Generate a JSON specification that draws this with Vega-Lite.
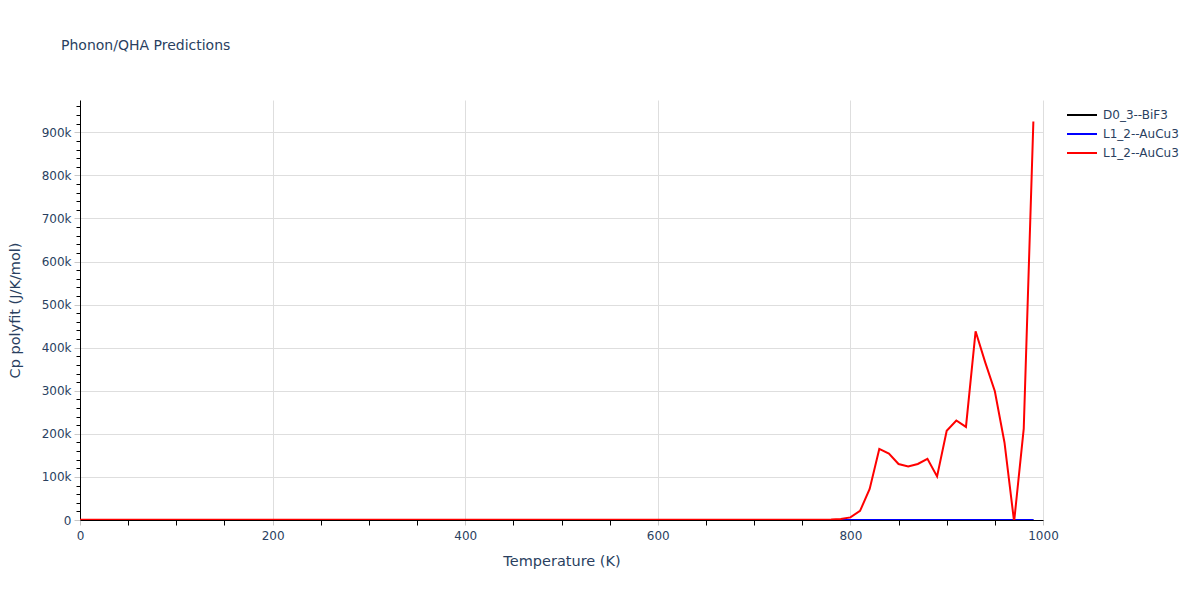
{
  "$schema": "https://vega.github.io/schema/vega-lite/v6.json",
  "width": 963,
  "height": 420,
  "autosize": "none",
  "padding": {"left": 80, "top": 100, "right": 157, "bottom": 80},
  "background": "white",
  "title": {
    "text": "Phonon/QHA Predictions",
    "anchor": "start",
    "frame": "group",
    "dx": -19,
    "offset": 36,
    "baseline": "alphabetic",
    "font": "DejaVu Sans",
    "fontSize": 14,
    "fontWeight": "normal",
    "color": "#2a3f5f"
  },
  "config": {
    "view": {"stroke": null},
    "font": "DejaVu Sans"
  },
  "data": {
    "values": [
      {"T": 0, "Cp": 0, "series": "D0_3--BiF3"},
      {"T": 50, "Cp": 40, "series": "D0_3--BiF3"},
      {"T": 100, "Cp": 70, "series": "D0_3--BiF3"},
      {"T": 150, "Cp": 82, "series": "D0_3--BiF3"},
      {"T": 200, "Cp": 88, "series": "D0_3--BiF3"},
      {"T": 300, "Cp": 93, "series": "D0_3--BiF3"},
      {"T": 400, "Cp": 95, "series": "D0_3--BiF3"},
      {"T": 500, "Cp": 97, "series": "D0_3--BiF3"},
      {"T": 600, "Cp": 98, "series": "D0_3--BiF3"},
      {"T": 700, "Cp": 99, "series": "D0_3--BiF3"},
      {"T": 800, "Cp": 100, "series": "D0_3--BiF3"},
      {"T": 900, "Cp": 101, "series": "D0_3--BiF3"},
      {"T": 990, "Cp": 102, "series": "D0_3--BiF3"},
      {"T": 0, "Cp": 0, "series": "L1_2--AuCu3 #1"},
      {"T": 50, "Cp": 50, "series": "L1_2--AuCu3 #1"},
      {"T": 100, "Cp": 80, "series": "L1_2--AuCu3 #1"},
      {"T": 150, "Cp": 90, "series": "L1_2--AuCu3 #1"},
      {"T": 200, "Cp": 94, "series": "L1_2--AuCu3 #1"},
      {"T": 300, "Cp": 97, "series": "L1_2--AuCu3 #1"},
      {"T": 400, "Cp": 99, "series": "L1_2--AuCu3 #1"},
      {"T": 500, "Cp": 100, "series": "L1_2--AuCu3 #1"},
      {"T": 600, "Cp": 101, "series": "L1_2--AuCu3 #1"},
      {"T": 700, "Cp": 102, "series": "L1_2--AuCu3 #1"},
      {"T": 800, "Cp": 103, "series": "L1_2--AuCu3 #1"},
      {"T": 900, "Cp": 104, "series": "L1_2--AuCu3 #1"},
      {"T": 990, "Cp": 105, "series": "L1_2--AuCu3 #1"},
      {"T": 0, "Cp": 300, "series": "L1_2--AuCu3 #2"},
      {"T": 100, "Cp": 500, "series": "L1_2--AuCu3 #2"},
      {"T": 200, "Cp": 550, "series": "L1_2--AuCu3 #2"},
      {"T": 300, "Cp": 550, "series": "L1_2--AuCu3 #2"},
      {"T": 400, "Cp": 560, "series": "L1_2--AuCu3 #2"},
      {"T": 500, "Cp": 570, "series": "L1_2--AuCu3 #2"},
      {"T": 600, "Cp": 580, "series": "L1_2--AuCu3 #2"},
      {"T": 700, "Cp": 600, "series": "L1_2--AuCu3 #2"},
      {"T": 750, "Cp": 650, "series": "L1_2--AuCu3 #2"},
      {"T": 760, "Cp": 700, "series": "L1_2--AuCu3 #2"},
      {"T": 770, "Cp": 850, "series": "L1_2--AuCu3 #2"},
      {"T": 780, "Cp": 1300, "series": "L1_2--AuCu3 #2"},
      {"T": 790, "Cp": 2600, "series": "L1_2--AuCu3 #2"},
      {"T": 800, "Cp": 6000, "series": "L1_2--AuCu3 #2"},
      {"T": 810, "Cp": 21000, "series": "L1_2--AuCu3 #2"},
      {"T": 820, "Cp": 72000, "series": "L1_2--AuCu3 #2"},
      {"T": 830, "Cp": 165000, "series": "L1_2--AuCu3 #2"},
      {"T": 840, "Cp": 154000, "series": "L1_2--AuCu3 #2"},
      {"T": 850, "Cp": 130000, "series": "L1_2--AuCu3 #2"},
      {"T": 860, "Cp": 124000, "series": "L1_2--AuCu3 #2"},
      {"T": 870, "Cp": 130000, "series": "L1_2--AuCu3 #2"},
      {"T": 880, "Cp": 142000, "series": "L1_2--AuCu3 #2"},
      {"T": 890, "Cp": 101000, "series": "L1_2--AuCu3 #2"},
      {"T": 900, "Cp": 207000, "series": "L1_2--AuCu3 #2"},
      {"T": 910, "Cp": 231000, "series": "L1_2--AuCu3 #2"},
      {"T": 920, "Cp": 216000, "series": "L1_2--AuCu3 #2"},
      {"T": 930, "Cp": 438000, "series": "L1_2--AuCu3 #2"},
      {"T": 940, "Cp": 366000, "series": "L1_2--AuCu3 #2"},
      {"T": 950, "Cp": 299000, "series": "L1_2--AuCu3 #2"},
      {"T": 960, "Cp": 180000, "series": "L1_2--AuCu3 #2"},
      {"T": 970, "Cp": -4000, "series": "L1_2--AuCu3 #2"},
      {"T": 980, "Cp": 212000, "series": "L1_2--AuCu3 #2"},
      {"T": 990, "Cp": 925000, "series": "L1_2--AuCu3 #2"}
    ]
  },
  "layer": [
    {
      "mark": {"type": "line", "strokeWidth": 2, "clip": true},
      "encoding": {
        "x": {
          "field": "T",
          "type": "quantitative",
          "scale": {"domain": [0, 1000], "nice": false, "zero": false},
          "axis": {
            "orient": "bottom",
            "title": "Temperature (K)",
            "values": [0, 200, 400, 600, 800, 1000],
            "format": "d",
            "labelFlush": false,
            "grid": true,
            "gridColor": "#dedede",
            "tickColor": "#c8c8c8",
            "tickSize": 5,
            "domainColor": "#000000",
            "labelFont": "DejaVu Sans",
            "labelFontSize": 12,
            "labelColor": "#2a3f5f",
            "labelPadding": 5,
            "titleFont": "DejaVu Sans",
            "titleFontSize": 14.5,
            "titleFontWeight": "normal",
            "titleColor": "#2a3f5f",
            "titlePadding": 13
          }
        },
        "y": {
          "field": "Cp",
          "type": "quantitative",
          "scale": {"domain": [0, 975000], "nice": false, "zero": false},
          "axis": {
            "orient": "left",
            "title": "Cp polyfit (J/K/mol)",
            "values": [0, 100000, 200000, 300000, 400000, 500000, 600000, 700000, 800000, 900000],
            "labelExpr": "datum.value == 0 ? '0' : format(datum.value / 1000, 'd') + 'k'",
            "labelFlush": false,
            "grid": true,
            "gridColor": "#dedede",
            "tickColor": "#c8c8c8",
            "tickSize": 6,
            "domainColor": "#000000",
            "labelFont": "DejaVu Sans",
            "labelFontSize": 12,
            "labelColor": "#2a3f5f",
            "labelPadding": 3,
            "titleFont": "DejaVu Sans",
            "titleFontSize": 14.5,
            "titleFontWeight": "normal",
            "titleColor": "#2a3f5f",
            "titlePadding": 19
          }
        },
        "color": {
          "field": "series",
          "type": "nominal",
          "scale": {
            "domain": ["D0_3--BiF3", "L1_2--AuCu3 #1", "L1_2--AuCu3 #2"],
            "range": ["#000000", "#0000ff", "#ff0000"]
          },
          "legend": {
            "title": null,
            "orient": "right",
            "offset": 24,
            "padding": 8,
            "symbolType": "M-2.5,0H2.5",
            "symbolSize": 144,
            "symbolStrokeWidth": 2,
            "rowPadding": 6,
            "labelOffset": 14,
            "labelFont": "DejaVu Sans",
            "labelFontSize": 12,
            "labelColor": "#2a3f5f",
            "labelExpr": "slice(datum.label, 0, 11)"
          }
        }
      }
    },
    {
      "mark": {"type": "line", "opacity": 0},
      "encoding": {
        "x": {
          "field": "T",
          "type": "quantitative",
          "axis": {
            "orient": "bottom",
            "title": null,
            "values": [50, 100, 150, 250, 300, 350, 450, 500, 550, 650, 700, 750, 850, 900, 950],
            "labels": false,
            "grid": false,
            "domain": false,
            "tickColor": "#000000",
            "tickSize": 5
          }
        },
        "y": {
          "field": "Cp",
          "type": "quantitative",
          "axis": {
            "orient": "left",
            "title": null,
            "values": [20000, 40000, 60000, 80000, 120000, 140000, 160000, 180000, 220000, 240000, 260000, 280000, 320000, 340000, 360000, 380000, 420000, 440000, 460000, 480000, 520000, 540000, 560000, 580000, 620000, 640000, 660000, 680000, 720000, 740000, 760000, 780000, 820000, 840000, 860000, 880000, 920000, 940000, 960000],
            "labels": false,
            "grid": false,
            "domain": false,
            "tickColor": "#000000",
            "tickSize": 4
          }
        },
        "detail": {"field": "series", "type": "nominal"}
      }
    }
  ],
  "resolve": {"axis": {"x": "independent", "y": "independent"}}
}
